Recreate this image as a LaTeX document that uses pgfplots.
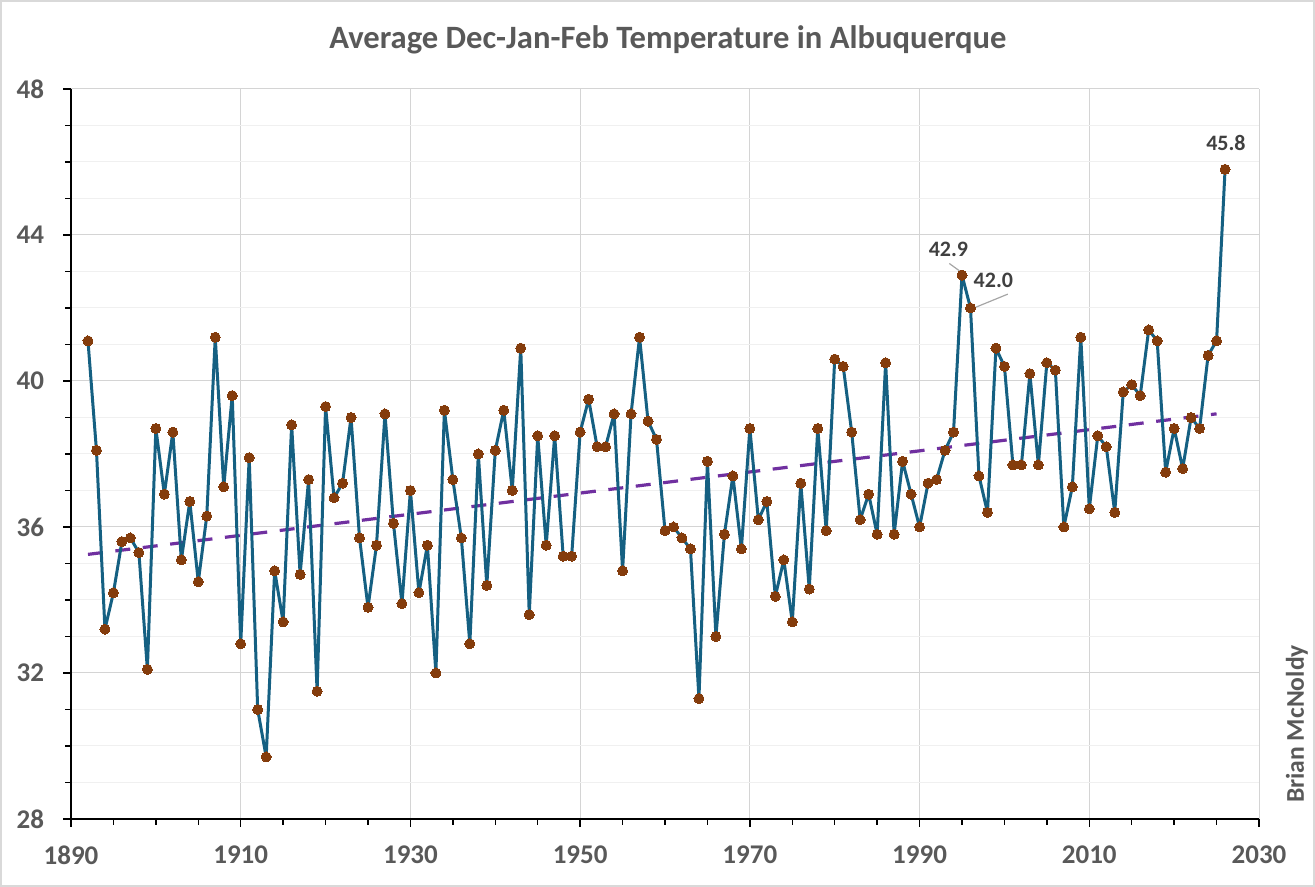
\documentclass[border=0pt]{standalone}
\usepackage{fontspec}
\setmainfont{Carlito}
\usepackage{pgfplots}
\pgfplotsset{compat=1.18}
\usepackage{pgfplotstable}
\definecolor{linec}{HTML}{156082}
\definecolor{markc}{HTML}{843C0C}
\definecolor{trendc}{HTML}{7030A0}
\definecolor{txtc}{HTML}{595959}
\definecolor{lblc}{HTML}{404040}
\pgfplotstableread{
year t
1892 41.1
1893 38.1
1894 33.2
1895 34.2
1896 35.6
1897 35.7
1898 35.3
1899 32.1
1900 38.7
1901 36.9
1902 38.6
1903 35.1
1904 36.7
1905 34.5
1906 36.3
1907 41.2
1908 37.1
1909 39.6
1910 32.8
1911 37.9
1912 31.0
1913 29.7
1914 34.8
1915 33.4
1916 38.8
1917 34.7
1918 37.3
1919 31.5
1920 39.3
1921 36.8
1922 37.2
1923 39.0
1924 35.7
1925 33.8
1926 35.5
1927 39.1
1928 36.1
1929 33.9
1930 37.0
1931 34.2
1932 35.5
1933 32.0
1934 39.2
1935 37.3
1936 35.7
1937 32.8
1938 38.0
1939 34.4
1940 38.1
1941 39.2
1942 37.0
1943 40.9
1944 33.6
1945 38.5
1946 35.5
1947 38.5
1948 35.2
1949 35.2
1950 38.6
1951 39.5
1952 38.2
1953 38.2
1954 39.1
1955 34.8
1956 39.1
1957 41.2
1958 38.9
1959 38.4
1960 35.9
1961 36.0
1962 35.7
1963 35.4
1964 31.3
1965 37.8
1966 33.0
1967 35.8
1968 37.4
1969 35.4
1970 38.7
1971 36.2
1972 36.7
1973 34.1
1974 35.1
1975 33.4
1976 37.2
1977 34.3
1978 38.7
1979 35.9
1980 40.6
1981 40.4
1982 38.6
1983 36.2
1984 36.9
1985 35.8
1986 40.5
1987 35.8
1988 37.8
1989 36.9
1990 36.0
1991 37.2
1992 37.3
1993 38.1
1994 38.6
1995 42.9
1996 42.0
1997 37.4
1998 36.4
1999 40.9
2000 40.4
2001 37.7
2002 37.7
2003 40.2
2004 37.7
2005 40.5
2006 40.3
2007 36.0
2008 37.1
2009 41.2
2010 36.5
2011 38.5
2012 38.2
2013 36.4
2014 39.7
2015 39.9
2016 39.6
2017 41.4
2018 41.1
2019 37.5
2020 38.7
2021 37.6
2022 39.0
2023 38.7
2024 40.7
2025 41.1
2026 45.8
}\datatable
\begin{document}
\begin{tikzpicture}
\begin{axis}[
  at={(0,0)}, anchor=south west,
  scale only axis, width=594pt, height=365pt,
  xmin=1890, xmax=2030, ymin=28, ymax=48,
  xtick={1890,1910,...,2030}, minor x tick num=3,
  ytick={28,32,...,48}, minor y tick num=3,
  axis x line=bottom, axis y line=left,
  axis line style={-, black, line width=0.7pt},
  tick align=outside,
  major tick length=4pt, minor tick length=3pt,
  tick style={black, line width=0.7pt},
  major grid style={line width=0.5pt, black!17},
  minor grid style={line width=0.5pt, black!6},
  xmajorgrids, ymajorgrids, yminorgrids,
  /pgf/number format/assume math mode=true,
  /pgf/number format/1000 sep={},
  ticklabel style={font=\fontsize{13.5}{14}\selectfont\bfseries, text=txtc},
  yticklabel style={xshift=-6pt},
  xticklabel style={yshift=-6pt},
  clip=false,
]
\addplot[trendc, line width=1.6pt, dash pattern=on 7.5pt off 6.3pt] coordinates {(1892,35.25) (2025,39.1)};
\addplot[linec, line width=1.5pt, line join=round, mark=*, mark size=2.5pt, mark options={fill=markc, draw=markc, line width=0pt}] table[x=year, y=t] {\datatable};
\draw[black!35, line width=0.6pt] (axis cs:1993.5,43.22) -- (axis cs:1995.1,42.95);
\draw[black!35, line width=0.6pt] (axis cs:2000.4,42.38) -- (axis cs:1996.3,41.99);
\node[font=\fontsize{11}{12}\selectfont\bfseries, text=lblc] at (axis cs:1993.4,43.61) {42.9};
\node[font=\fontsize{11}{12}\selectfont\bfseries, text=lblc] at (axis cs:1998.7,42.77) {42.0};
\node[font=\fontsize{11}{12}\selectfont\bfseries, text=lblc] at (axis cs:2026.1,46.52) {45.8};
\end{axis}
\node[font=\fontsize{16.3}{17}\selectfont\bfseries, text=txtc] at (298.5pt,389.5pt) {Average Dec-Jan-Feb Temperature in Albuquerque};
\node[font=\fontsize{12.8}{13}\selectfont\bfseries, text=txtc, rotate=90, anchor=west] at (613pt,4.5pt) {Brian McNoldy};
\pgfresetboundingbox
\draw[black!15, line width=1pt] (-35pt,-33.5pt) rectangle (621.5pt,409pt);
\useasboundingbox (-35.5pt,-34pt) rectangle (622pt,409.5pt);
\end{tikzpicture}
\end{document}
